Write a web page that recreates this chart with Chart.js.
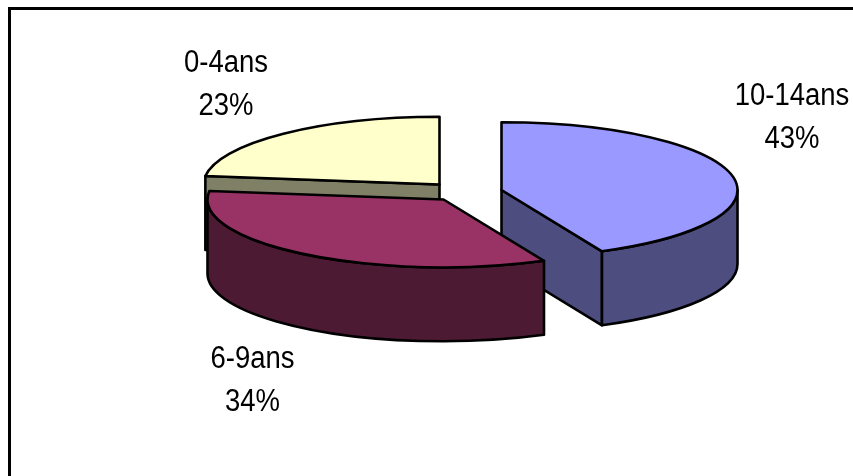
<!DOCTYPE html>
<html>
<head>
<meta charset="utf-8">
<style>
  html, body { margin: 0; padding: 0; background: #fff; overflow: hidden; }
  canvas { display: block; }
</style>
</head>
<body>
<canvas id="myChart" width="853" height="476"></canvas>
<script src="https://cdn.jsdelivr.net/npm/chart.js"></script>
<script>
const categories = ['10-14ans', '6-9ans', '0-4ans'];
const values = [43, 34, 23];
const topColors = ['#9999FF', '#993366', '#FFFFCC'];
const wallColors = ['#4D4D80', '#4D1A33', '#808066'];

// where each slice sits on the page (the slices are pulled apart unevenly)
const sliceCentres = [[501.5, 190], [443.5, 199.5], [439.5, 184.5]];
const labelCentres = [[792, 105], [252.5, 368], [226, 72]];
const drawOrder = [2, 0, 1]; // back to front
const RADIUS = 236;
const SQUASH = 0.287;
const DEPTH = 74;
const LINE = 2.6;
const TEXT_STRETCH = 1.13; // the labels are a bit taller than the font

function outline(ctx, cx, cy, rx, ry, a0, a1) {
    ctx.beginPath();
    ctx.moveTo(cx, cy);
    ctx.ellipse(cx, cy, rx, ry, 0, a0, a1);
    ctx.closePath();
}

function drawFace(ctx, cx, cy, rx, ry, a, color) {
    const px = cx + rx * Math.cos(a);
    const py = cy + ry * Math.sin(a);
    ctx.beginPath();
    ctx.moveTo(cx, cy);
    ctx.lineTo(px, py);
    ctx.lineTo(px, py + DEPTH);
    ctx.lineTo(cx, cy + DEPTH);
    ctx.closePath();
    ctx.fillStyle = color;
    ctx.fill();
    ctx.stroke();
}

function drawWall(ctx, cx, cy, rx, ry, a0, a1, color) {
    const from = Math.max(a0, 0);
    const to = Math.min(a1, Math.PI);
    if (to <= from) return;
    ctx.beginPath();
    ctx.ellipse(cx, cy, rx, ry, 0, from, to);
    ctx.ellipse(cx, cy + DEPTH, rx, ry, 0, to, from, true);
    ctx.closePath();
    ctx.fillStyle = color;
    ctx.fill();
    ctx.stroke();
}

function stretchedText(ctx, text, x, y) {
    ctx.save();
    ctx.translate(x, y);
    ctx.scale(1, TEXT_STRETCH);
    ctx.fillText(text, 0, 0);
    ctx.restore();
}

const pie3d = {
    id: 'pie3d',
    beforeDatasetDraw(chart, args) {
        const ctx = chart.ctx;
        const arcs = args.meta.data;
        drawOrder.forEach(function (i) {
            const arc = arcs[i];
            const p = arc.getProps(['x', 'y', 'startAngle', 'endAngle', 'outerRadius'], true);
            const cx = sliceCentres[i][0];
            const cy = sliceCentres[i][1];
            const rx = p.outerRadius;
            const ry = p.outerRadius * SQUASH;
            ctx.save();
            ctx.lineWidth = LINE;
            ctx.lineJoin = 'round';
            ctx.strokeStyle = '#000';

            // radial cut faces turned towards the viewer
            if (Math.cos(p.startAngle) < -1e-6) drawFace(ctx, cx, cy, rx, ry, p.startAngle, wallColors[i]);
            if (Math.cos(p.endAngle) > 1e-6) drawFace(ctx, cx, cy, rx, ry, p.endAngle, wallColors[i]);
            drawWall(ctx, cx, cy, rx, ry, p.startAngle, p.endAngle, wallColors[i]);

            // top of the slice, the library's own arc flattened
            ctx.save();
            ctx.translate(cx, cy);
            ctx.scale(1, SQUASH);
            ctx.translate(-p.x, -p.y);
            arc.draw(ctx);
            ctx.restore();

            outline(ctx, cx, cy, rx, ry, p.startAngle, p.endAngle);
            ctx.stroke();
            ctx.restore();
        });
        return false;
    },
    afterDraw(chart) {
        const ctx = chart.ctx;
        ctx.save();
        // frame, only top and left fall inside the picture
        ctx.fillStyle = '#000';
        ctx.fillRect(8, 7, 845, 3);
        ctx.fillRect(8, 7, 3, 469);

        const total = values.reduce(function (a, b) { return a + b; }, 0);
        ctx.fillStyle = '#000';
        ctx.font = '27.5px "Liberation Sans", Arial, sans-serif';
        ctx.textAlign = 'center';
        ctx.textBaseline = 'alphabetic';
        categories.forEach(function (name, i) {
            const x = labelCentres[i][0];
            const y = labelCentres[i][1];
            stretchedText(ctx, name, x, y);
            stretchedText(ctx, Math.round(values[i] / total * 100) + '%', x, y + 43);
        });
        ctx.restore();
    }
};

new Chart(document.getElementById('myChart'), {
    type: 'pie',
    data: {
        labels: categories,
        datasets: [{
            data: values,
            backgroundColor: topColors,
            borderWidth: 0,
            radius: RADIUS
        }]
    },
    options: {
        responsive: false,
        animation: false,
        events: [],
        plugins: {
            legend: { display: false },
            tooltip: { enabled: false }
        }
    },
    plugins: [pie3d]
});
</script>
</body>
</html>
